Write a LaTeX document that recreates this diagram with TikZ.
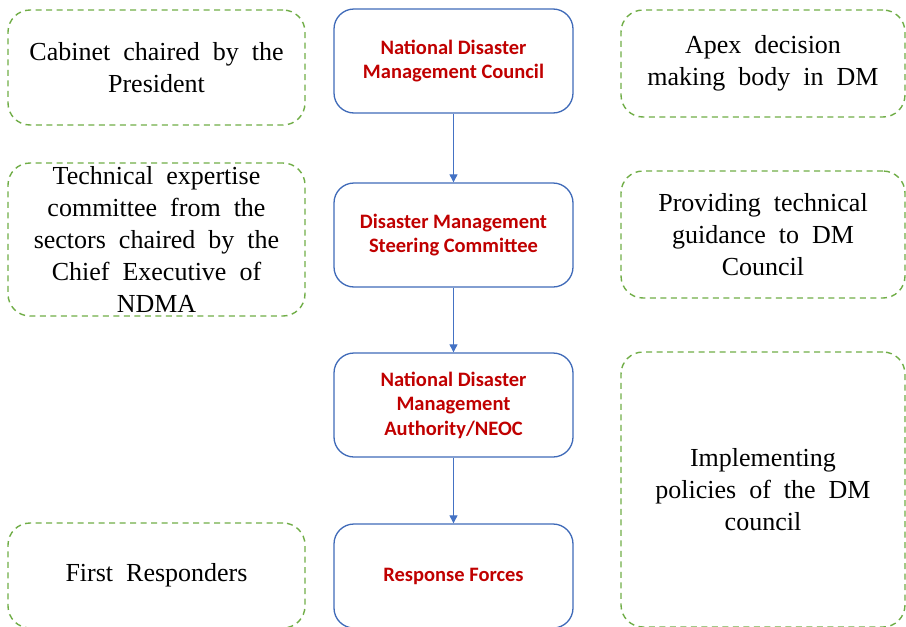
\documentclass[tikz,border=0pt]{standalone}
\usepackage{fontspec}
\setmainfont{Liberation Serif}
\newfontfamily\calib{Carlito}
\usetikzlibrary{arrows.meta}
\definecolor{boxblue}{HTML}{3F6AB8}
\definecolor{arrowblue}{HTML}{4472C4}
\definecolor{darkred}{HTML}{C00000}
\definecolor{dashgreen}{HTML}{70AD47}
\tikzset{
  mainbox/.style={draw=boxblue, line width=1.3pt, rounded corners=20pt, minimum width=239pt, inner sep=0pt,
    font=\calib\bfseries\fontsize{20.5}{24.5}\selectfont, text=darkred, align=center},
  notebox/.style={draw=dashgreen, line width=1.4pt, dash pattern=on 6pt off 4.5pt, rounded corners=22pt, inner sep=0pt,
    font=\fontsize{26}{32}\selectfont, align=center},
  flowarrow/.style={draw=arrowblue, line width=0.9pt, -{Triangle[length=8pt,width=8pt]}}
}
\begin{document}
\begin{tikzpicture}[x=1pt,y=-1pt]
\useasboundingbox (0,0) rectangle (906,627);
% centre column
\node[mainbox, minimum height=104pt] (c1) at (453.5,61) {National Disaster\\Management Council};
\node[mainbox, minimum height=104pt] (c2) at (453.5,235) {Disaster Management\\Steering Committee};
\node[mainbox, minimum height=104pt] (c3) at (453.5,405) {National Disaster\\Management\\Authority/NEOC};
\node[mainbox, minimum height=104pt] (c4) at (453.5,576) {Response Forces};
\draw[flowarrow] (c1.south) -- (c2.north);
\draw[flowarrow] (c2.south) -- (c3.north);
\draw[flowarrow] (c3.south) -- (c4.north);
% left notes
\node[notebox, minimum width=297pt, minimum height=115pt] (l1) at (156.5,67.5)
  {Cabinet\ \ chaired\ \ by\ \ the\\President};
\node[notebox, minimum width=297pt, minimum height=153pt] (l2) at (156.5,239.5)
  {Technical\ \ expertise\\committee\ \ from\ \ the\\sectors\ \ chaired\ \ by\ \ the\\Chief\ \ Executive\ \ of\\NDMA};
\node[notebox, minimum width=297pt, minimum height=105pt] (l4) at (156.5,575.5)
  {First\ \ Responders};
% right notes
\node[notebox, minimum width=284pt, minimum height=107pt] (r1) at (763,63.5)
  {Apex\ \ decision\\making\ \ body\ \ in\ \ DM};
\node[notebox, minimum width=284pt, minimum height=127pt] (r2) at (763,234.5)
  {Providing\ \ technical\\guidance\ \ to\ \ DM\\Council};
\node[notebox, minimum width=284pt, minimum height=275pt] (r3) at (763,489.5)
  {Implementing\\policies\ \ of\ \ the\ \ DM\\council};
\end{tikzpicture}
\end{document}
